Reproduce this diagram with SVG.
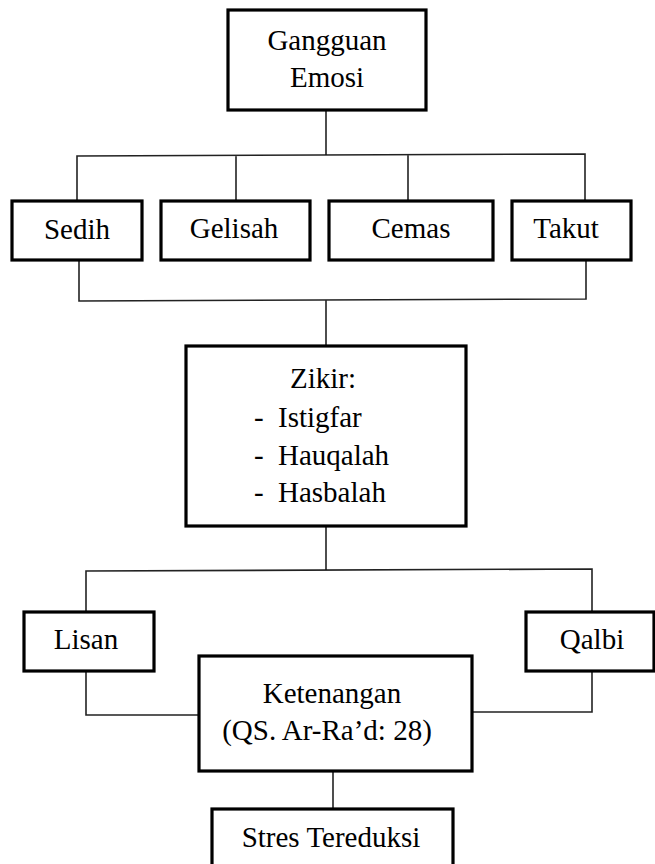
<svg xmlns="http://www.w3.org/2000/svg" width="655" height="864" viewBox="0 0 655 864">
<style>
.box{fill:#fff;stroke:#000;stroke-width:3.2}
.ln{fill:none;stroke:#222;stroke-width:1.6}
text{font-family:"Liberation Serif","Times New Roman",serif;font-size:29px;fill:#000}
.c{text-anchor:middle}
</style>
<rect width="655" height="864" fill="#fff"/>
<g id="connectors">
<path class="ln" d="M326 110V155M77 200V156L585 154V200M236 155V200M408 155V200"/>
<path class="ln" d="M79 260V301L586 299V260M326 300V346"/>
<path class="ln" d="M326 526V570M86 612V571L592 569V612"/>
<path class="ln" d="M86 671V715H199M592 671V712H472"/>
<path class="ln" d="M333 771V809"/>
</g>
<g id="gangguan"><rect class="box" x="228" y="10" width="198" height="100"/><text class="c" x="327" y="50">Gangguan</text><text class="c" x="327" y="87">Emosi</text></g>
<g id="sedih"><rect class="box" x="12" y="201" width="130" height="59"/><text class="c" x="77" y="239">Sedih</text></g>
<g id="gelisah"><rect class="box" x="161" y="201" width="149" height="59"/><text class="c" x="234" y="238">Gelisah</text></g>
<g id="cemas"><rect class="box" x="329" y="201" width="164" height="59"/><text class="c" x="411" y="238">Cemas</text></g>
<g id="takut"><rect class="box" x="512" y="201" width="119" height="59"/><text class="c" x="566" y="238">Takut</text></g>
<g id="zikir"><rect class="box" x="186" y="346" width="280" height="180"/>
<text class="c" x="323" y="388">Zikir:</text>
<text x="254" y="427">-</text><text x="278" y="427">Istigfar</text>
<text x="254" y="465">-</text><text x="278" y="465">Hauqalah</text>
<text x="254" y="502">-</text><text x="278" y="502">Hasbalah</text></g>
<g id="lisan"><rect class="box" x="24" y="612" width="130" height="59"/><text class="c" x="86" y="649">Lisan</text></g>
<g id="qalbi"><rect class="box" x="526" y="612" width="128" height="59"/><text class="c" x="592" y="649">Qalbi</text></g>
<g id="ketenangan"><rect class="box" x="199" y="656" width="273" height="115"/><text class="c" x="332" y="703">Ketenangan</text><text class="c" x="327" y="740">(QS. Ar-Ra’d: 28)</text></g>
<g id="stres"><rect class="box" x="212" y="809" width="241" height="70"/><text class="c" x="331" y="847">Stres Tereduksi</text></g>
</svg>
